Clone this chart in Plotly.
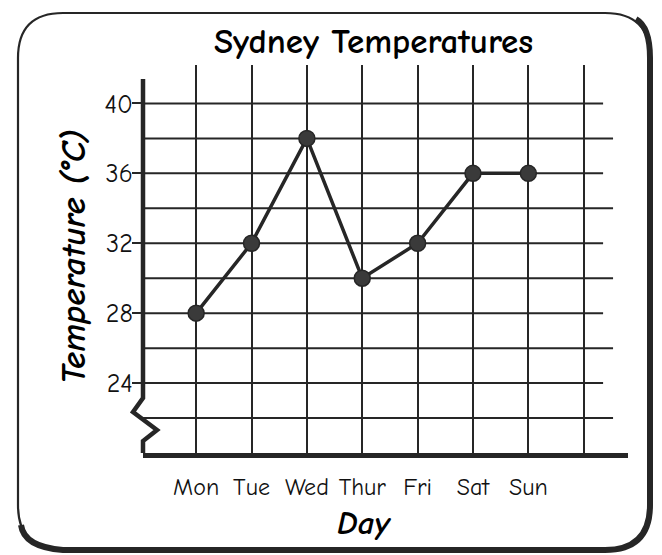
import plotly.graph_objects as go

days = ["Mon", "Tue", "Wed", "Thur", "Fri", "Sat", "Sun"]
temps = [28, 32, 38, 30, 32, 36, 36]
ytick_vals = [24, 28, 32, 36, 40]
grid_levels = [22, 24, 26, 28, 30, 32, 34, 36, 38, 40]

W, H = 662, 555
OFF = 8  # page body margin in the browser
FONT = "Comic Sans MS, Comic Neue, Noto Sans, sans-serif"
INK = "#262626"

# plot area in (reference) pixels
X0, X1 = 143, 628
Y0, Y1 = 65, 453
XR = [-0.96, 7.8]
YR = [20, 42.2]

def px(x):
    return (x - OFF) / W

def py(y):
    return 1 - (y - OFF) / H

fig = go.Figure()

# horizontal grid lines (not full width, alternating lengths)
hx, hy = [], []
for v in grid_levels:
    end = 7.35 if v % 4 == 0 else 7.53
    hx += [XR[0], end, None]
    hy += [v, v, None]
fig.add_trace(go.Scatter(x=hx, y=hy, mode="lines",
                         line=dict(color=INK, width=2),
                         hoverinfo="skip", showlegend=False))

# data line
fig.add_trace(go.Scatter(x=list(range(len(days))), y=temps, mode="lines+markers",
                         line=dict(color=INK, width=3.5),
                         marker=dict(size=16, color="#3a3a3a",
                                     line=dict(color=INK, width=1.5)),
                         cliponaxis=False, showlegend=False))

shapes = []
# y axis line with break zigzag
zig = [(143, 79), (143, 398), (133, 412), (157, 430), (143, 441), (143, 453)]
path = "M " + " L ".join(f"{px(a):.5f},{py(b):.5f}" for a, b in zig)
shapes.append(dict(type="path", xref="paper", yref="paper", path=path,
                   line=dict(color=INK, width=4.5)))

# rounded border
L, T, R, B, rad = 18, 13, 650, 550, 45
def P(a, b):
    return f"{px(a):.5f},{py(b):.5f}"
border = (f"M {P(L+rad, T)} L {P(R-rad, T)} Q {P(R, T)} {P(R, T+rad)} "
          f"L {P(R, B-rad)} Q {P(R, B)} {P(R-rad, B)} L {P(L+rad, B)} "
          f"Q {P(L, B)} {P(L, B-rad)} L {P(L, T+rad)} Q {P(L, T)} {P(L+rad, T)} Z")
shapes.append(dict(type="path", xref="paper", yref="paper", path=border,
                   line=dict(color=INK, width=2.2)))
thick = (f"M {P(R-14, T+6)} Q {P(R, T+14)} {P(R, T+rad)} "
         f"L {P(R, B-rad)} Q {P(R, B)} {P(R-rad, B)} L {P(L+rad, B)} "
         f"Q {P(L+6, B-3)} {P(L+3, B-25)}")
shapes.append(dict(type="path", xref="paper", yref="paper", path=thick,
                   line=dict(color=INK, width=6)))

annotations = [
    dict(text="<b>Sydney Temperatures</b>", x=px(374), y=py(41), xref="paper", yref="paper",
         showarrow=False, font=dict(family=FONT, size=35, color="#000"),
         xanchor="center", yanchor="middle"),
    dict(text="<b><i>Day</i></b>", x=px(364), y=py(523), xref="paper", yref="paper",
         showarrow=False, font=dict(family=FONT, size=33, color="#000"),
         xanchor="center", yanchor="middle"),
    dict(text="<b><i>Temperature (°C)</i></b>", x=px(73), y=py(257), xref="paper", yref="paper",
         showarrow=False, textangle=-90, font=dict(family=FONT, size=35, color="#000"),
         xanchor="center", yanchor="middle"),
]

fig.update_layout(
    width=W, height=H,
    margin=dict(l=0, r=0, t=0, b=0),
    paper_bgcolor="white", plot_bgcolor="white",
    showlegend=False,
    shapes=shapes, annotations=annotations,
    xaxis=dict(domain=[px(X0), px(X1)], range=XR,
               tickvals=list(range(len(days) + 1)), ticktext=days + [""],
               showgrid=True, gridcolor=INK, gridwidth=2,
               zeroline=False, showline=True, linecolor=INK, linewidth=4.5,
               ticks="", ticklabelstandoff=8,
               tickfont=dict(family=FONT, size=24, color="#111"), fixedrange=True),
    yaxis=dict(domain=[py(Y1), py(Y0)], range=YR,
               tickvals=ytick_vals, showgrid=False, zeroline=False, showline=False,
               ticks="outside", ticklen=10, tickwidth=2, tickcolor=INK,
               ticklabelstandoff=-6,
               tickfont=dict(family=FONT, size=26, color="#111"), fixedrange=True),
)

fig.write_html("out.html")
